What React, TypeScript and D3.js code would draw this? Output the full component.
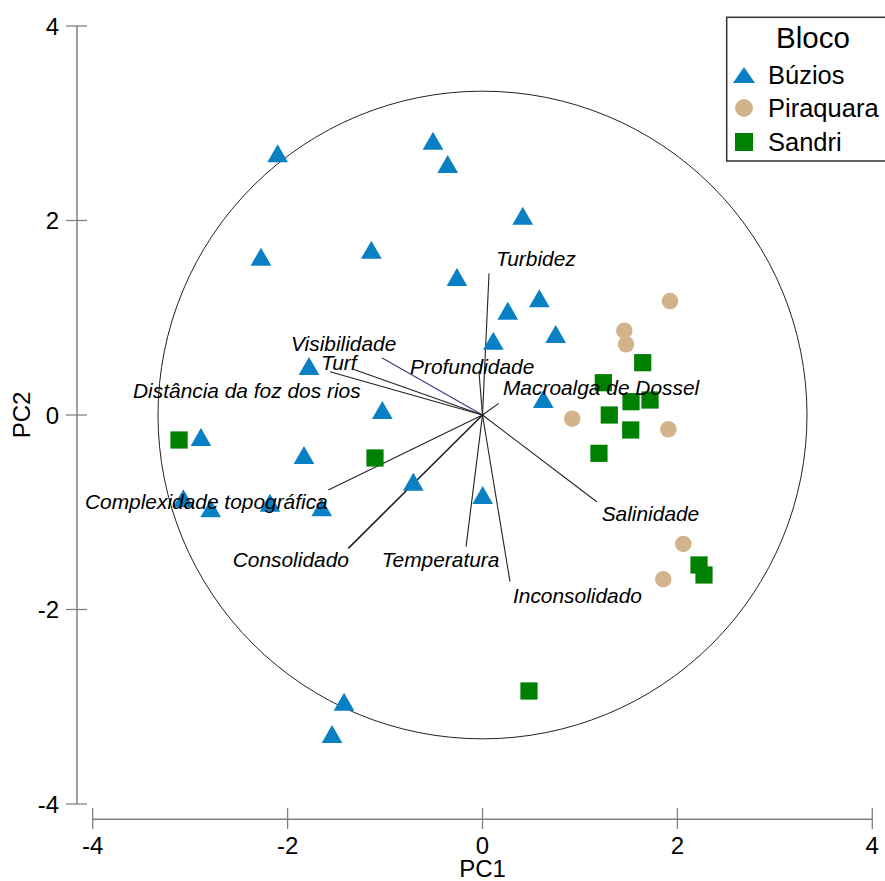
import React from 'react';
import * as d3 from 'd3';

// Scores per bloco (PC1, PC2)
const buziosX = [-2.102, -0.508, -0.357, 0.413, -2.273, -1.141, -0.262, 0.583, 0.259, 0.751, 0.111, -1.78, 0.624, -1.028, -2.889, -1.832, -0.71, 0.002, -3.07, -2.789, -2.181, -1.65, -1.421, -1.544];
const buziosY = [2.691, 2.821, 2.581, 2.049, 1.628, 1.7, 1.419, 1.2, 1.073, 0.833, 0.764, 0.504, 0.165, 0.051, -0.226, -0.411, -0.686, -0.823, -0.857, -0.959, -0.902, -0.949, -2.948, -3.28];
const piraquaraX = [1.924, 1.455, 1.473, 0.921, 1.907, 2.061, 1.855];
const piraquaraY = [1.172, 0.867, 0.727, -0.038, -0.147, -1.326, -1.689];
const sandriX = [1.644, 1.24, 1.524, 1.719, 1.301, 1.521, 1.195, -3.114, -1.103, 0.477, 2.222, 2.273];
const sandriY = [0.538, 0.332, 0.137, 0.154, 0, -0.154, -0.394, -0.257, -0.442, -2.838, -1.542, -1.645];

// Variable vectors
const vecNames = ['Turbidez', 'Visibilidade', 'Turf', 'Distância da foz dos rios', 'Profundidade', 'Macroalga de Dossel', 'Salinidade', 'Inconsolidado', 'Temperatura', 'Consolidado', 'Complexidade topográfica'];
const vecX = [0.067, -1.034, -1.326, -1.565, -0.036, 0.166, 1.172, 0.282, -0.169, -1.377, -1.582];
const vecY = [1.457, 0.589, 0.47, 0.445, 0.44, 0.12, -0.892, -1.714, -1.354, -1.371, -0.771];
// label anchors (left edge, middle) in PC units
const labelX = [0.139, -1.965, -1.657, -3.586, -0.744, 0.21, 1.223, 0.313, -1.034, -2.563, -4.079];
const labelY = [1.614, 0.74, 0.545, 0.257, 0.504, 0.281, -1.008, -1.851, -1.481, -1.481, -0.892];

const ticks = [-4, -2, 0, 2, 4];
const circleRadius = 3.33;

const W = 885;
const H = 881;

export default function App() {
	const x = d3.scaleLinear().domain([-4, 4]).range([92.7, 872.3]);
	const y = d3.scaleLinear().domain([-4, 4]).range([804, 26]);
	const axisColor = '#808080';
	const font = '"Liberation Sans", Arial, sans-serif';

	const tri = 'M0,-9L10.35,9L-10.35,9Z';
	const buzios = buziosX.map((v, i) => [v, buziosY[i]]);
	const piraquara = piraquaraX.map((v, i) => [v, piraquaraY[i]]);
	const sandri = sandriX.map((v, i) => [v, sandriY[i]]);

	return (
		<svg width={W} height={H} style={{ position: 'absolute', left: 0, top: 0, background: '#fff' }}>
			{/* y axis */}
			<line x1={77} x2={77} y1={y(4)} y2={y(-4)} stroke={axisColor} strokeWidth={1.5} />
			{ticks.map((t) => (
				<g key={'yt' + t}>
					<line x1={66} x2={87} y1={y(t)} y2={y(t)} stroke={axisColor} strokeWidth={1.3} />
					<text x={59} y={y(t)} dy="0.36em" textAnchor="end" fontSize={24} fontFamily={font}>{t}</text>
				</g>
			))}
			{/* x axis */}
			<line x1={x(-4)} x2={x(4)} y1={819.3} y2={819.3} stroke={axisColor} strokeWidth={1.5} />
			{ticks.map((t) => (
				<g key={'xt' + t}>
					<line x1={x(t)} x2={x(t)} y1={808} y2={829} stroke={axisColor} strokeWidth={1.3} />
					<text x={x(t)} y={854} textAnchor="middle" fontSize={24} fontFamily={font}>{t}</text>
				</g>
			))}
			<text x={x(0)} y={877} textAnchor="middle" fontSize={24} fontFamily={font}>PC1</text>
			<text transform={`translate(30,${y(0)}) rotate(-90)`} textAnchor="middle" fontSize={24} fontFamily={font}>PC2</text>

			{/* circle */}
			<ellipse cx={x(0)} cy={y(0)} rx={x(circleRadius) - x(0)} ry={y(0) - y(circleRadius)} fill="none" stroke="#222" strokeWidth={1} />

			{/* vectors */}
			{vecNames.map((n, i) => (
				<line key={'v' + n} x1={x(0)} y1={y(0)} x2={x(vecX[i])} y2={y(vecY[i])}
					stroke={n === 'Visibilidade' ? '#3a3a7a' : '#222'}
					strokeWidth={n === 'Consolidado' ? 1.6 : 1.1} />
			))}

			{/* points */}
			{buzios.map((d, i) => (
				<path key={'b' + i} d={tri} transform={`translate(${x(d[0])},${y(d[1])})`} fill="#0a80c4" />
			))}
			{piraquara.map((d, i) => (
				<circle key={'p' + i} cx={x(d[0])} cy={y(d[1])} r={8.3} fill="#d2b48c" />
			))}
			{sandri.map((d, i) => (
				<rect key={'s' + i} x={x(d[0]) - 8.6} y={y(d[1]) - 8.6} width={17.2} height={17.2} fill="#008000" />
			))}

			{/* vector labels */}
			{vecNames.map((n, i) => (
				<text key={'l' + n} x={x(labelX[i])} y={y(labelY[i])} dy="0.36em" fontSize={20.9} fontStyle="italic" fontFamily={font}>{n}</text>
			))}

			{/* legend */}
			<rect x={726.7} y={17.3} width={170} height={143.7} fill="#fff" stroke="#333" strokeWidth={1.5} />
			<text x={813} y={37} dy="0.36em" textAnchor="middle" fontSize={29.5} fontFamily={font}>Bloco</text>
			<path d="M0,-8L11,8L-11,8Z" transform="translate(744,75)" fill="#0a80c4" />
			<text x={768} y={75} dy="0.36em" fontSize={25.5} fontFamily={font}>Búzios</text>
			<circle cx={744} cy={108} r={9} fill="#d2b48c" />
			<text x={768} y={108} dy="0.36em" fontSize={25.5} fontFamily={font}>Piraquara</text>
			<rect x={735} y={133} width={18} height={18} fill="#008000" />
			<text x={768} y={142} dy="0.36em" fontSize={25.5} fontFamily={font}>Sandri</text>
		</svg>
	);
}
